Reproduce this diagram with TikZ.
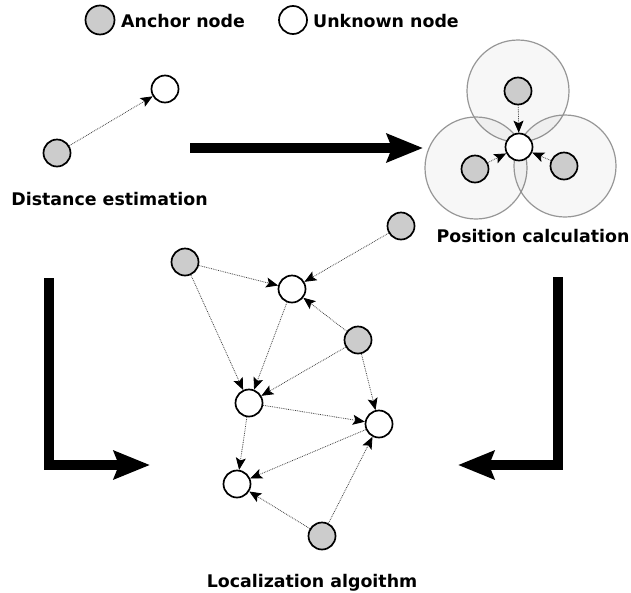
\documentclass[tikz,border=0pt]{standalone}
\usepackage{fontspec}
\setmainfont{DejaVu Sans}
\usetikzlibrary{arrows.meta}
\tikzset{
  anchornode/.style={circle, draw=black, line width=1.7pt, fill=black!20, minimum size=27pt, inner sep=0pt},
  unknode/.style={circle, draw=black, line width=1.7pt, fill=white, minimum size=27pt, inner sep=0pt},
  dotarrow/.style={draw=black!75, densely dotted, line width=0.8pt, -{Stealth[length=12pt,width=10pt,inset=2.5pt,fill=black,black]}},
  bigarrow/.style={line width=10pt, line join=miter, -{Stealth[length=36pt,width=28pt,inset=5pt]}},
  rangecircle/.style={circle, draw=black!45, line width=1.2pt, fill=black, fill opacity=0.03, draw opacity=0.9, minimum size=102pt, inner sep=0pt},
  lbl/.style={font=\bfseries\fontsize{17.4}{21}\selectfont, anchor=base, inner sep=0pt},
}
\begin{document}
\begin{tikzpicture}[x=1pt,y=-1pt]
\useasboundingbox (0,0) rectangle (631,592);
% legend
\node[anchornode, minimum size=29pt] (la) at (100,20) {};
\node[lbl, anchor=base west] (lat) at (121,27) {Anchor node};
\node[unknode, minimum size=28pt] (lu) at (293,20) {};
\node[lbl, anchor=base west] (lut) at (313,27) {Unknown node};
% distance estimation
\node[anchornode] (da) at (57,153) {};
\node[unknode] (du) at (165,89) {};
\draw[dotarrow] (da) -- (du);
\node[lbl] (dlbl) at (109.5,205) {Distance estimation};
% big arrow right
\coordinate (h1) at (190,148);
\coordinate (h2) at (423,148);
\draw[bigarrow] (h1) -- (h2);
% position calculation
\node[rangecircle] (r1) at (518,91) {};
\node[rangecircle] (r2) at (476,168) {};
\node[rangecircle] (r3) at (565,166) {};
\node[anchornode] (pa1) at (518,91) {};
\node[anchornode] (pa2) at (475,169) {};
\node[anchornode] (pa3) at (564,166) {};
\node[unknode] (pu) at (519,147) {};
\draw[dotarrow] (pa1) -- (pu);
\draw[dotarrow] (pa2) -- (pu);
\draw[dotarrow] (pa3) -- (pu);
\node[lbl] (plbl) at (533,242) {Position calculation};
% L arrows
\coordinate (l1) at (49,278);
\coordinate (l2) at (49,465);
\coordinate (l3) at (150,465);
\draw[bigarrow] (l1) -- (l2) -- (l3);
\coordinate (r1a) at (558,277);
\coordinate (r2a) at (558,465);
\coordinate (r3a) at (458,465);
\draw[bigarrow] (r1a) -- (r2a) -- (r3a);
% localization network
\node[anchornode] (a1) at (185,262) {};
\node[anchornode] (a2) at (401,226) {};
\node[anchornode] (a3) at (358,340) {};
\node[anchornode] (a4) at (322,536) {};
\node[unknode] (u1) at (292,289) {};
\node[unknode] (u2) at (249,403) {};
\node[unknode] (u3) at (379,424) {};
\node[unknode] (u4) at (237,484) {};
\draw[dotarrow] (a1) -- (u1);
\draw[dotarrow] (a2) -- (u1);
\draw[dotarrow] (a3) -- (u1);
\draw[dotarrow] (a1) -- (u2);
\draw[dotarrow] (u1) -- (u2);
\draw[dotarrow] (a3) -- (u2);
\draw[dotarrow] (a3) -- (u3);
\draw[dotarrow] (u2) -- (u3);
\draw[dotarrow] (u2) -- (u4);
\draw[dotarrow] (u3) -- (u4);
\draw[dotarrow] (a4) -- (u4);
\draw[dotarrow] (a4) -- (u3);
\node[lbl] (llbl) at (312,587) {Localization algoithm};
\end{tikzpicture}
\end{document}
